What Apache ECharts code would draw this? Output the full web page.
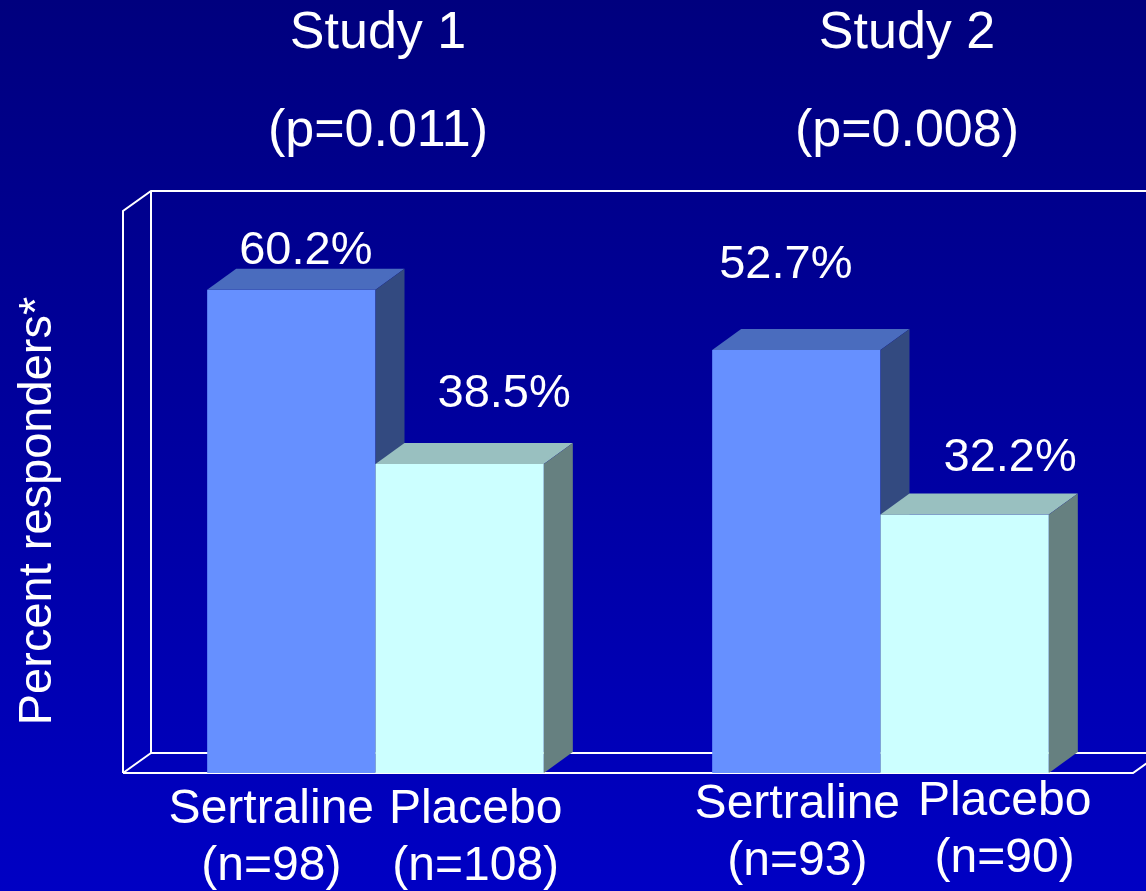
<!DOCTYPE html>
<html>
<head>
<meta charset="utf-8">
<title>Percent responders</title>
<script src="https://cdn.jsdelivr.net/npm/echarts@6/dist/echarts.min.js"></script>
<style>
  html, body { margin: 0; padding: 0; }
  #chart {
    width: 1146px; height: 891px;
    background: linear-gradient(to bottom, #00007e 0%, #00009c 45%, #0000c4 100%);
  }
</style>
</head>
<body>
<div id="chart"></div>
<script>
// ---- data ----
const studies = ['Study 1', 'Study 2'];
const pValues = ['p=0.011', 'p=0.008'];
const sertraline = [60.2, 52.7];
const placebo = [38.5, 32.2];
const sertralineN = [98, 93];
const placeboN = [108, 90];
const yMax = 70;

// ---- layout ----
const W = 1146, H = 891;
const GRID = { left: 123, top: 211, right: 13, bottom: 118 };
const FRAME_DEPTH = [28, -20];
const BAR_DEPTH = [29, -21];
const FONT = "'Liberation Sans', Arial, Helvetica, sans-serif";
// hand placement of value labels and captions, per study
const valueShift = { sertraline: [[0, 0], [-25, -46]], placebo: [[30, -31], [31, -17]] };
const captionShift = { sertraline: [[-20, 0], [1, -5]], placebo: [[16, 0], [40, -8]] };
const titleX = [378, 907];

const PALETTE = {
  sertraline: { front: '#6690ff', top: '#4a6cbe', side: '#334a80' },
  placebo: { front: '#ccffff', top: '#99c0c0', side: '#668080' }
};

function barRenderer(key, side, label, nArr) {
  const c = PALETTE[key];
  return function (params, api) {
    const i = api.value(0);
    const v = api.value(1);
    const top = api.coord([i, v]);
    const base = api.coord([i, 0]);
    const bw = api.size([1, 0])[0] / 3;
    const x0 = side === 0 ? base[0] - bw : base[0];
    const x1 = x0 + bw;
    const yT = top[1], yB = base[1];
    const dx = BAR_DEPTH[0], dy = BAR_DEPTH[1];
    const vs = valueShift[key][i];
    const cs = captionShift[key][i];
    return {
      type: 'group',
      children: [
        { type: 'rect', shape: { x: x0, y: yT, width: bw, height: yB - yT },
          style: { fill: c.front } },
        { type: 'polygon', shape: { points: [[x0, yT], [x0 + dx, yT + dy], [x1 + dx, yT + dy], [x1, yT]] },
          style: { fill: c.top } },
        { type: 'polygon', shape: { points: [[x1, yT], [x1 + dx, yT + dy], [x1 + dx, yB + dy], [x1, yB]] },
          style: { fill: c.side } },
        { type: 'text', x: x0 + (bw + dx) / 2 + vs[0], y: yT + dy - 18 + vs[1],
          style: { text: v.toFixed(1) + '%', fill: '#ffffff', font: '47px ' + FONT,
                   align: 'center', verticalAlign: 'middle', textAlign: 'center', textVerticalAlign: 'middle' } },
        { type: 'text', x: x0 + bw / 2 + cs[0], y: yB + 65 + cs[1],
          style: { text: label + '\n(n=' + nArr[i] + ')', fill: '#ffffff', font: '48px ' + FONT,
                   lineHeight: 57,
                   align: 'center', verticalAlign: 'middle', textAlign: 'center', textVerticalAlign: 'middle' } }
      ]
    };
  };
}

// white 3-D frame drawn behind the bars
const L = GRID.left, T = GRID.top, B = H - GRID.bottom, R = W - GRID.right;
const fdx = FRAME_DEPTH[0], fdy = FRAME_DEPTH[1];
const lineStyle = { stroke: '#ffffff', lineWidth: 2, fill: null };
const frame = [
  { type: 'polyline', shape: { points: [[L, B], [L, T], [L + fdx, T + fdy], [W + 2, T + fdy]] }, style: lineStyle, silent: true },
  { type: 'polyline', shape: { points: [[L + fdx, T + fdy], [L + fdx, B + fdy], [W + 2, B + fdy]] }, style: lineStyle, silent: true },
  { type: 'polyline', shape: { points: [[L, B], [L + fdx, B + fdy]] }, style: lineStyle, silent: true },
  { type: 'polyline', shape: { points: [[L, B], [R, B], [R + fdx, B + fdy]] }, style: lineStyle, silent: true }
];

const titles = studies.map((s, k) => ({
  type: 'text', x: titleX[k], y: 83, silent: true,
  style: { text: s + '\n(' + pValues[k] + ')', fill: '#ffffff', font: '52px ' + FONT, lineHeight: 98,
           align: 'center', verticalAlign: 'middle', textAlign: 'center', textVerticalAlign: 'middle' }
}));

const yTitle = {
  type: 'text', x: 38, y: 511, rotation: Math.PI / 2, silent: true,
  style: { text: 'Percent responders*', fill: '#ffffff', font: '47px ' + FONT,
           align: 'center', verticalAlign: 'middle', textAlign: 'center', textVerticalAlign: 'middle' }
};

const chart = echarts.init(document.getElementById('chart'), null, { renderer: 'canvas' });
chart.setOption({
  backgroundColor: 'transparent',
  animation: false,
  grid: { left: GRID.left, top: GRID.top, right: GRID.right, bottom: GRID.bottom },
  xAxis: { type: 'category', data: studies, show: false },
  yAxis: { type: 'value', min: 0, max: yMax, show: false },
  graphic: { elements: frame.concat(titles, [yTitle]) },
  series: [
    { name: 'Sertraline', type: 'custom', z: 3,
      renderItem: barRenderer('sertraline', 0, 'Sertraline', sertralineN),
      data: sertraline.map((v, i) => [i, v]) },
    { name: 'Placebo', type: 'custom', z: 4,
      renderItem: barRenderer('placebo', 1, 'Placebo', placeboN),
      data: placebo.map((v, i) => [i, v]) }
  ]
});
</script>
</body>
</html>
